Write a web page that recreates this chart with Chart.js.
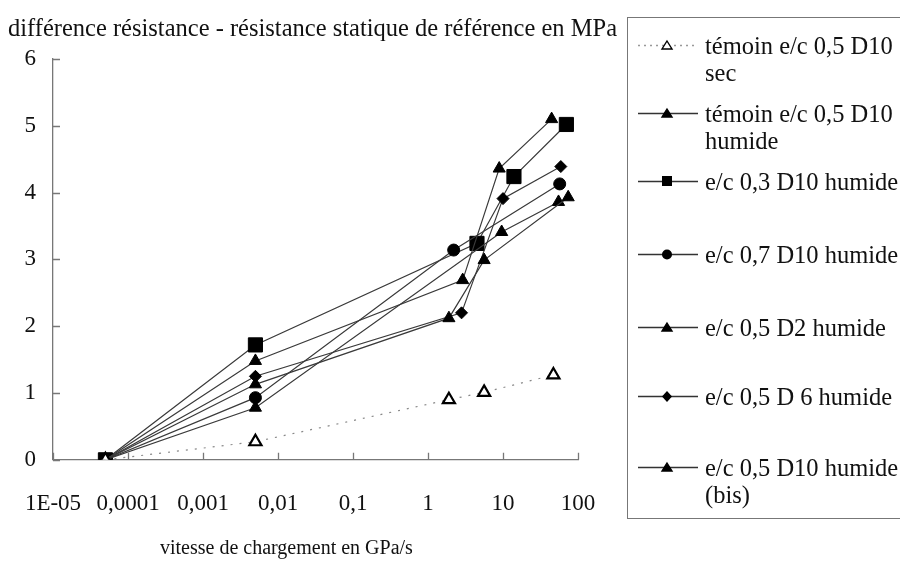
<!DOCTYPE html>
<html lang="fr">
<head>
  <meta charset="UTF-8" />
  <title>Vitesse de chargement</title>
  <script src="https://cdn.jsdelivr.net/npm/chart.js"></script>
  <style>
    html, body { margin: 0; padding: 0; background: #fff; }
    body { width: 900px; height: 563px; position: relative; overflow: hidden; font-family: "Liberation Serif", "Times New Roman", serif; color: #111; }
    #wrap { position: absolute; left: 0; top: 0; width: 900px; height: 563px; }
    .txt { position: absolute; white-space: nowrap; line-height: 27px; }
    #yTitle { left: 8px; top: 14px; font-size: 24.5px; }
    #xTitle { left: 160px; top: 534px; font-size: 20px; }
    #legend { position: absolute; left: 627px; top: 17px; width: 320px; height: 500px; border: 1px solid #777; border-right: none; }
    .item { position: absolute; left: 0; }
    .item svg { position: absolute; left: 8px; }
    .item .lbl { position: absolute; left: 77px; white-space: nowrap; font-size: 24.5px; line-height: 27px; }
  </style>
</head>
<body>
  <div id="wrap"><canvas id="chart" width="900" height="563"></canvas></div>
  <div id="yTitle" class="txt">différence résistance - résistance statique de référence en MPa</div>
  <div id="xTitle" class="txt">vitesse de chargement en GPa/s</div>
  <div id="legend"></div>

  <script>
    // x = vitesse de chargement (GPa/s), y = différence de résistance (MPa)
    const xTicks = [1e-5, 1e-4, 1e-3, 1e-2, 1e-1, 1, 10, 100];
    const xTickLabels = ['1E-05', '0,0001', '0,001', '0,01', '0,1', '1', '10', '100'];
    const yTicks = [0, 1, 2, 3, 4, 5, 6];

    const temoinSecX = [0.00005, 0.005, 1.9, 5.6, 47];
    const temoinSecY = [0, 0.27, 0.9, 1.01, 1.27];

    const temoinHumX = [0.00005, 0.005, 2.9, 8.9, 44.5];
    const temoinHumY = [0, 1.48, 2.69, 4.36, 5.1];

    const ec03X = [0.00005, 0.005, 4.5, 14, 70];
    const ec03Y = [0, 1.72, 3.24, 4.24, 5.02];

    const ec07X = [0.00005, 0.005, 2.2, 57];
    const ec07Y = [0, 0.93, 3.14, 4.13];

    const d2X = [0.00005, 0.005, 1.9, 5.6, 74];
    const d2Y = [0, 1.13, 2.12, 2.99, 3.93];

    const d6X = [0.00005, 0.005, 2.8, 10, 59];
    const d6Y = [0, 1.25, 2.2, 3.91, 4.39];

    const d10bisX = [0.00005, 0.005, 9.6, 55];
    const d10bisY = [0, 0.78, 3.41, 3.86];

    const seriesNames = [
      ['témoin e/c 0,5 D10', 'sec'],
      ['témoin e/c 0,5 D10', 'humide'],
      ['e/c 0,3 D10 humide'],
      ['e/c 0,7 D10 humide'],
      ['e/c 0,5 D2 humide'],
      ['e/c 0,5 D 6 humide'],
      ['e/c 0,5 D10 humide', '(bis)']
    ];

    const pts = (xs, ys) => xs.map((x, i) => ({ x: x, y: ys[i] }));

    function line(label, xs, ys, style, radius, extra) {
      return Object.assign({
        label: label,
        data: pts(xs, ys),
        borderColor: '#3a3a3a',
        borderWidth: 1.2,
        pointStyle: style,
        pointRadius: radius,
        pointBackgroundColor: '#000',
        pointBorderColor: '#000',
        pointBorderWidth: 1,
        showLine: true,
        tension: 0
      }, extra || {});
    }

    const datasets = [
      line(seriesNames[0].join(' '), temoinSecX, temoinSecY, 'triangle', 7, {
        borderColor: '#888', borderDash: [2, 7], pointBackgroundColor: '#fff', pointBorderWidth: 2.2
      }),
      line(seriesNames[1].join(' '), temoinHumX, temoinHumY, 'triangle', 7),
      line(seriesNames[4].join(' '), d2X, d2Y, 'triangle', 7),
      line(seriesNames[6].join(' '), d10bisX, d10bisY, 'triangle', 7),
      line(seriesNames[5].join(' '), d6X, d6Y, 'rectRot', 6),
      line(seriesNames[3].join(' '), ec07X, ec07Y, 'circle', 6),
      line(seriesNames[2].join(' '), ec03X, ec03Y, 'rect', 10)
    ];

    // small tick marks pointing into the plot
    const innerTicks = {
      id: 'innerTicks',
      afterDraw(chart) {
        const { ctx, chartArea, scales } = chart;
        ctx.save();
        ctx.strokeStyle = '#777';
        ctx.lineWidth = 1.3;
        ctx.beginPath();
        xTicks.forEach(v => {
          const px = Math.round(scales.x.getPixelForValue(v)) + 0.5;
          ctx.moveTo(px, chartArea.bottom);
          ctx.lineTo(px, chartArea.bottom - 7);
        });
        yTicks.forEach(v => {
          const py = Math.round(scales.y.getPixelForValue(v)) + 0.5;
          ctx.moveTo(chartArea.left, py);
          ctx.lineTo(chartArea.left + 7, py);
        });
        ctx.stroke();
        ctx.restore();
      }
    };

    new Chart(document.getElementById('chart'), {
      type: 'scatter',
      data: { datasets: datasets },
      options: {
        responsive: false,
        animation: false,
        layout: { autoPadding: false, padding: { left: 7.5, right: 322, top: 59, bottom: 42 } },
        plugins: { legend: { display: false }, tooltip: { enabled: false } },
        scales: {
          x: {
            type: 'logarithmic',
            min: 1e-5,
            max: 100,
            afterBuildTicks: (scale) => { scale.ticks = xTicks.map(v => ({ value: v })); },
            ticks: {
              color: '#111',
              padding: 3,
              maxRotation: 0,
              autoSkip: false,
              font: { family: 'Liberation Serif', size: 23 },
              // blank first line pushes the labels down without widening the side padding
              callback: (v) => ['', xTickLabels[xTicks.indexOf(v)] ?? '']
            },
            grid: { display: false, drawTicks: false },
            border: { color: '#777', width: 1.3 }
          },
          y: {
            min: 0,
            max: 6,
            ticks: {
              stepSize: 1,
              color: '#111',
              padding: 17,
              font: { family: 'Liberation Serif', size: 23 }
            },
            grid: { display: false, drawTicks: false },
            border: { color: '#777', width: 1.3 }
          }
        }
      },
      plugins: [innerTicks]
    });

    // legend, built from the series names
    const markers = [
      { shape: 'tri', fill: '#fff', dash: '2 4', stroke: '#999' },
      { shape: 'tri', fill: '#000' },
      { shape: 'sq', fill: '#000' },
      { shape: 'circ', fill: '#000' },
      { shape: 'tri', fill: '#000' },
      { shape: 'dia', fill: '#000' },
      { shape: 'tri', fill: '#000' }
    ];
    const itemTops = [14, 82, 150, 223, 296, 365, 436];

    const legend = document.getElementById('legend');
    seriesNames.forEach((lines, i) => {
      const m = markers[i];
      const item = document.createElement('div');
      item.className = 'item';
      item.style.top = itemTops[i] + 'px';
      let shape = '';
      if (m.shape === 'tri') shape = `<polygon points="31,9 36,17 26,17" fill="${m.fill}" stroke="#000" stroke-width="1.4"/>`;
      if (m.shape === 'sq') shape = `<rect x="26" y="8" width="10" height="10" fill="#000"/>`;
      if (m.shape === 'circ') shape = `<circle cx="31" cy="13.5" r="5" fill="#000"/>`;
      if (m.shape === 'dia') shape = `<polygon points="31,8 36,13.5 31,19 26,13.5" fill="#000"/>`;
      const stroke = m.stroke || '#333';
      const dash = m.dash ? `stroke-dasharray="${m.dash}"` : '';
      item.innerHTML =
        `<svg width="64" height="27"><line x1="2" y1="13.5" x2="62" y2="13.5" stroke="${stroke}" stroke-width="1.3" ${dash}/>${shape}</svg>` +
        lines.map((t, k) => `<div class="lbl" style="top:${k * 27}px">${t}</div>`).join('');
      legend.appendChild(item);
    });
  </script>
</body>
</html>
